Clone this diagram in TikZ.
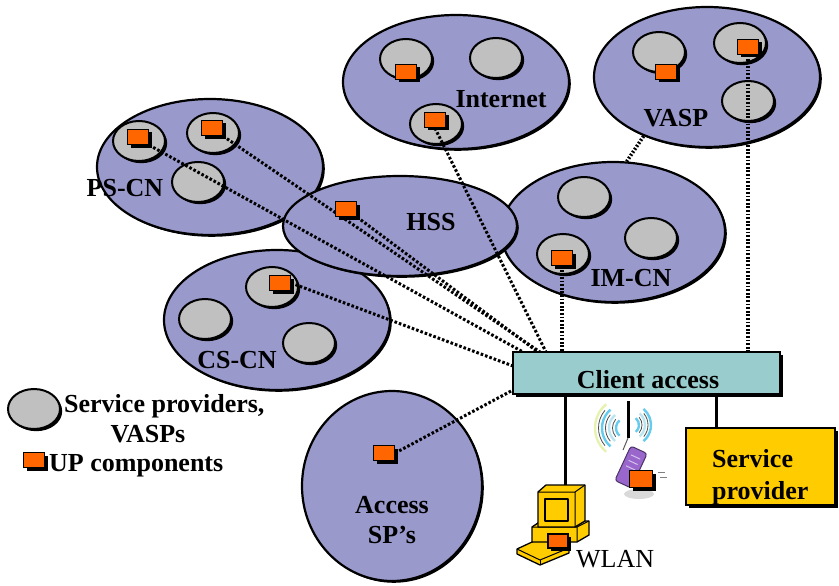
\documentclass[tikz,border=0pt]{standalone}
\usepackage{fontspec}
\setmainfont{Liberation Serif}
\usetikzlibrary{shapes.geometric,shadows}

\definecolor{cloud}{HTML}{9999CC}
\definecolor{spgrey}{HTML}{C0C0C0}
\definecolor{upor}{HTML}{FF6600}
\definecolor{clientbg}{HTML}{99CCCC}
\definecolor{spyellow}{HTML}{FFCC00}
\definecolor{phonepurple}{HTML}{9966CC}
\definecolor{waveA}{HTML}{66CCEE}
\definecolor{waveB}{HTML}{BBE6F0}
\definecolor{waveC}{HTML}{E6F2B0}

\tikzset{
  netdomain/.style={ellipse, draw=black, line width=2.2pt, fill=cloud, inner sep=0pt,
    drop shadow={shadow xshift=1.8pt, shadow yshift=-1.8pt, fill=black, opacity=1}},
  provider/.style={ellipse, draw=black, line width=2pt, fill=spgrey,
    minimum width=52pt, minimum height=40pt, inner sep=0pt,
    drop shadow={shadow xshift=2.2pt, shadow yshift=-2.2pt, fill=black, opacity=1}},
  upbox/.style={rectangle, draw=black, line width=1.3pt, fill=upor,
    minimum width=21pt, minimum height=15pt, inner sep=0pt,
    drop shadow={shadow xshift=3pt, shadow yshift=-3pt, fill=black, opacity=1}},
  flatbox/.style={rectangle, draw=black, line width=1.3pt, inner sep=0pt,
    drop shadow={shadow xshift=3pt, shadow yshift=-3pt, fill=black, opacity=1}},
  siglink/.style={line width=3pt, dash pattern=on 2.6pt off 2pt},
  sigdrop/.style={line width=3.6pt, dash pattern=on 1.8pt off 1.8pt},
  feedline/.style={line width=3pt, black},
  lbl/.style={font=\fontsize{26}{28}\selectfont\bfseries, inner sep=0pt},
  wlantext/.style={font=\fontsize{26}{28}\selectfont, inner sep=0pt},
  pcpart/.style={draw=black, line width=1.3pt, fill=spyellow, line join=round},
}

\begin{document}
\begin{tikzpicture}[x=1pt, y=-1pt]
\useasboundingbox (0,0) rectangle (839,586);

% network domains
\node[netdomain, minimum width=226pt, minimum height=136pt] (pscn) at (210,167) {};
\node[netdomain, minimum width=226pt, minimum height=140pt] (cscn) at (277,320) {};
\node[netdomain, minimum width=224pt, minimum height=140pt] (imcn) at (613,232) {};
\node[netdomain, minimum width=226pt, minimum height=134pt] (inet) at (456,82) {};
\node[netdomain, minimum width=226pt, minimum height=140pt] (vasp) at (707,77) {};
\node[netdomain, minimum width=234pt, minimum height=100pt] (hss) at (400,226) {};
\node[netdomain, minimum width=180pt, minimum height=190pt] (accsp) at (392,486) {};

% service providers inside the domains
\node[provider] (inet1) at (406,59) {};
\node[provider] (inet2) at (496,58) {};
\node[provider] (inet3) at (436,124) {};
\node[provider] (vasp1) at (659,52) {};
\node[provider] (vasp2) at (740,43) {};
\node[provider] (vasp3) at (748,101) {};
\node[provider] (imcn1) at (584,197) {};
\node[provider] (imcn2) at (651,238) {};
\node[provider] (imcn3) at (563,254) {};
\node[provider] (pscn1) at (139,141) {};
\node[provider] (pscn2) at (213,133) {};
\node[provider] (pscn3) at (198,182) {};
\node[provider] (cscn1) at (272,287) {};
\node[provider] (cscn2) at (205,319) {};
\node[provider] (cscn3) at (309,343) {};
\node[provider] (legsp) at (34,409) {};

% UP components
\node[upbox] (upInet1) at (406,72) {};
\node[upbox] (upVasp1) at (666,72) {};
\node[upbox] (upLeg) at (34,460) {};

% service provider box
\node[flatbox, fill=spyellow, minimum width=149pt, minimum height=77pt] (sp) at (760.5,466.5) {};

% end points of the signalling links on the client access box
\coordinate (ca1) at (523,352);
\coordinate (ca2) at (540,352);
\coordinate (ca3) at (538,352);
\coordinate (ca4) at (546,352);
\coordinate (caw1) at (513,366);
\coordinate (caw2) at (513,390);
\coordinate (caTop) at (646,352);

% UP components that own a signalling link
\node[upbox] (upInet3) at (435,120) {};
\node[upbox] (upVasp2) at (748,47) {};
\node[upbox] (upImcn) at (562,258) {};
\node[upbox] (upPs1) at (138,137) {};
\node[upbox] (upPs2) at (212,128) {};
\node[upbox] (upHss) at (346,209) {};
\node[upbox] (upCs) at (280,283) {};
\node[upbox] (upAcc) at (384,453) {};

% signalling links
\draw[siglink] (upPs1.south east) -- (ca1);
\draw[siglink] (upPs2.south east) -- (ca2);
\draw[siglink] (upHss.south east) -- (ca3);
\draw[siglink] (upInet3.south) -- (ca4);
\draw[sigdrop] (upImcn.south) -- (upImcn.south |- caTop);
\draw[sigdrop] (upVasp2.south) -- (upVasp2.south |- caTop);
\draw[siglink] (upCs.east) -- (caw1);
\draw[siglink] (upAcc.east) -- (caw2);
\draw[sigdrop] (vasp.223) -- (imcn.79);

% boxes stay on top of the link ends
\node[upbox] at (upPs1) {};
\node[upbox] at (upPs2) {};
\node[upbox] at (upHss) {};
\node[upbox] at (upInet3) {};
\node[upbox] at (upImcn) {};
\node[upbox] at (upVasp2) {};
\node[upbox] at (upCs) {};
\node[upbox] at (upAcc) {};
\node[flatbox, fill=clientbg, minimum width=267pt, minimum height=42pt] (client) at (646.5,373) {};

% wired attachments
\coordinate (pctop) at (565,486);
\coordinate (spjoin) at (716,428);
\draw[feedline] (client.south -| pctop) -- (pctop);
\draw[feedline] (client.south -| spjoin) -- (spjoin);

% desktop terminal
\filldraw[pcpart] (517,549) -- (545,536) -- (569,548) -- (569,553) -- (540,565) -- (517,554) -- cycle;
\draw[line width=1pt] (517,549) -- (540,560) -- (569,548);
\draw[line width=1pt] (540,560) -- (540,565);
\filldraw[pcpart] (532,527) -- (541,521) -- (589,521) -- (589,535) -- (577,542) -- (532,542) -- cycle;
\draw[line width=1pt] (532,527) -- (577,527) -- (589,521) (577,527) -- (577,542);
\filldraw[pcpart] (538,492) -- (546,485) -- (585,485) -- (585,521) -- (575,527) -- (538,527) -- cycle;
\draw[line width=1pt] (538,492) -- (575,492) -- (585,485) (575,492) -- (575,527);
\filldraw[pcpart] (545,499) rectangle (568,521);
\node[upbox, minimum width=20pt, minimum height=14pt] (upPc) at (558,541) {};

% wireless terminal
\fill[gray!30] (639,494) ellipse (15 and 5);
\draw[feedline] (628,401) -- (628,438);
\draw[gray!70!black, line width=1pt] (628,438) -- (623,450);
\foreach \r/\c in {10/waveA, 17/waveB, 24/waveA, 31/waveC}
  \draw[\c, line width=2.4pt] (626,428) ++(130:\r) arc (130:230:\r);
\foreach \r in {13.5, 20.5, 27.5}
  \draw[gray!60!black, line width=0.8pt] (626,428) ++(140:\r) arc (140:220:\r);
\foreach \r/\c in {9/waveA, 15/waveB, 21/waveA}
  \draw[\c, line width=2.4pt] (630,425) ++(-50:\r) arc (-50:50:\r);
\foreach \r in {12, 18}
  \draw[gray!60!black, line width=0.8pt] (630,425) ++(-40:\r) arc (-40:40:\r);
\filldraw[fill=phonepurple, draw=phonepurple!50!black, line width=1pt, rounded corners=3pt,
  rotate around={-25:(631,467)}] (622,448) rectangle (640,486);
\draw[phonepurple!40!white, line width=1pt, rotate around={-25:(631,467)}]
  (626,456) -- (636,456) (626,462) -- (636,462) (626,468) -- (636,468);
\node[upbox, minimum width=23pt, minimum height=17pt] (upPhone) at (641,479) {};
\draw[gray, line width=1pt] (658,472) -- (665,472) (660,477) -- (667,477);

% labels
\node[lbl, anchor=base] at (501,107) {Internet};
\node[lbl, anchor=base] at (676,127) {VASP};
\node[lbl, anchor=base] at (125,196) {PS-CN};
\node[lbl, anchor=base] at (431,230) {HSS};
\node[lbl, anchor=base] at (631,286) {IM-CN};
\node[lbl, anchor=base] at (237,368) {CS-CN};
\node[lbl, anchor=base] at (392,513) {Access};
\node[lbl, anchor=base] at (392,543) {SP’s};
\node[lbl, anchor=base] at (648,388) {Client access};
\node[lbl, anchor=base west] at (712,467) {Service};
\node[lbl, anchor=base west] at (712,499) {provider};
\node[wlantext, anchor=base west] at (576,567) {WLAN};

% legend
\node[lbl, anchor=base west] at (64,412) {Service providers,};
\node[lbl, anchor=base] at (148,442) {VASPs};
\node[lbl, anchor=base west] at (49,471) {UP components};
\end{tikzpicture}
\end{document}
